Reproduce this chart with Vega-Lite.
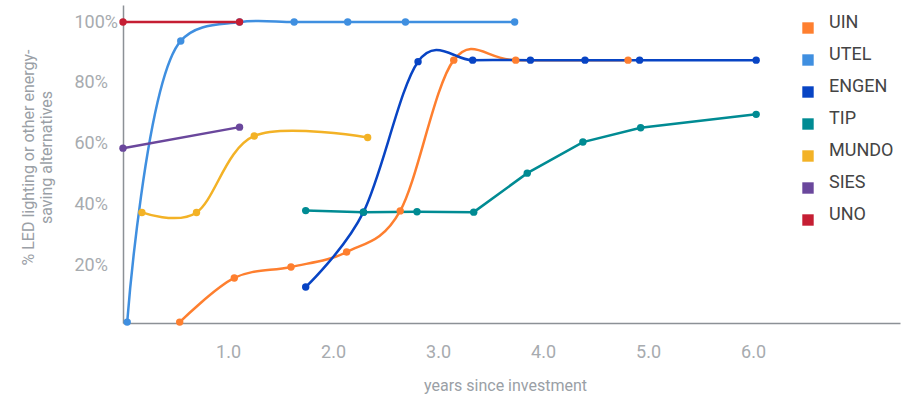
{
  "$schema": "https://vega.github.io/schema/vega-lite/v6.json",
  "width": 777,
  "height": 318,
  "autosize": {"type": "none"},
  "padding": {"left": 123, "top": 5, "right": 11, "bottom": 73},
  "background": "white",
  "config": {
    "view": {"stroke": null},
    "font": "Roboto"
  },
  "data": {
    "values": [
      {"s": "UIN", "x": 0.54, "y": 1.5},
      {"s": "UIN", "x": 1.06, "y": 16.0},
      {"s": "UIN", "x": 1.60, "y": 19.6},
      {"s": "UIN", "x": 2.13, "y": 24.5},
      {"s": "UIN", "x": 2.64, "y": 38.0},
      {"s": "UIN", "x": 3.15, "y": 87.5},
      {"s": "UIN", "x": 3.74, "y": 87.5},
      {"s": "UIN", "x": 4.81, "y": 87.5},
      {"s": "UTEL", "x": 0.04, "y": 1.5},
      {"s": "UTEL", "x": 0.55, "y": 93.8},
      {"s": "UTEL", "x": 1.11, "y": 100},
      {"s": "UTEL", "x": 1.63, "y": 100},
      {"s": "UTEL", "x": 2.14, "y": 100},
      {"s": "UTEL", "x": 2.69, "y": 100},
      {"s": "UTEL", "x": 3.73, "y": 100},
      {"s": "ENGEN", "x": 1.74, "y": 13.0},
      {"s": "ENGEN", "x": 2.29, "y": 37.6},
      {"s": "ENGEN", "x": 2.81, "y": 87.0},
      {"s": "ENGEN", "x": 3.33, "y": 87.5},
      {"s": "ENGEN", "x": 3.88, "y": 87.5},
      {"s": "ENGEN", "x": 4.40, "y": 87.5},
      {"s": "ENGEN", "x": 4.92, "y": 87.5},
      {"s": "ENGEN", "x": 6.03, "y": 87.5},
      {"s": "TIP", "x": 1.74, "y": 38.1},
      {"s": "TIP", "x": 2.29, "y": 37.6},
      {"s": "TIP", "x": 2.80, "y": 37.7},
      {"s": "TIP", "x": 3.34, "y": 37.6},
      {"s": "TIP", "x": 3.85, "y": 50.4},
      {"s": "TIP", "x": 4.38, "y": 60.6},
      {"s": "TIP", "x": 4.93, "y": 65.3},
      {"s": "TIP", "x": 6.03, "y": 69.7},
      {"s": "MUNDO", "x": 0.18, "y": 37.5},
      {"s": "MUNDO", "x": 0.70, "y": 37.5},
      {"s": "MUNDO", "x": 1.25, "y": 62.6},
      {"s": "MUNDO", "x": 2.33, "y": 62.1},
      {"s": "SIES", "x": 0.0, "y": 58.6},
      {"s": "SIES", "x": 1.11, "y": 65.5},
      {"s": "UNO", "x": 0.0, "y": 100},
      {"s": "UNO", "x": 1.11, "y": 100}
    ]
  },
  "encoding": {
    "x": {
      "field": "x", "type": "quantitative",
      "scale": {"domain": [0, 7.4], "nice": false, "zero": false},
      "axis": {
        "values": [1, 2, 3, 4, 5, 6], "format": ".1f",
        "title": "years since investment",
        "grid": false, "ticks": false,
        "domainColor": "#8c9196", "domainWidth": 1.5,
        "labelColor": "#a7abaf", "labelFontSize": 18, "labelPadding": 20,
        "titleColor": "#9aa0a6", "titleFontSize": 16, "titleFontWeight": "normal",
        "titleX": 382, "titleY": 62, "titleBaseline": "middle", "titleAnchor": null
      }
    },
    "y": {
      "field": "y", "type": "quantitative",
      "scale": {"domain": [1.2, 105.6], "nice": false, "zero": false},
      "axis": {
        "values": [20, 40, 60, 80, 100],
        "labelExpr": "datum.value + '%'",
        "title": ["% LED lighting or other energy-", "saving alternatives"],
        "grid": false, "ticks": false,
        "domainColor": "#8c9196", "domainWidth": 1.5,
        "labelColor": "#a7abaf", "labelFontSize": 18, "labelPadding": 49, "labelAlign": "left",
        "titleColor": "#9aa0a6", "titleFontSize": 16, "titleFontWeight": "normal",
        "titleLineHeight": 18, "titleAngle": 270,
        "titleX": -95, "titleY": 152, "titleAlign": "center", "titleBaseline": "middle", "titleAnchor": null
      }
    },
    "color": {
      "field": "s", "type": "nominal",
      "scale": {
        "domain": ["UIN", "UTEL", "ENGEN", "TIP", "MUNDO", "SIES", "UNO"],
        "range": ["#fe7f2f", "#3f8fe0", "#0844c4", "#008b93", "#f3b226", "#6a479c", "#c51e33"]
      },
      "legend": {
        "title": null, "orient": "none", "legendX": 676, "legendY": 14,
        "symbolType": "square", "symbolSize": 130, "symbolStrokeWidth": 0, "symbolOpacity": 1,
        "labelFontSize": 18, "labelColor": "#444444", "labelOffset": 12,
        "labelBaseline": "alphabetic", "rowPadding": 12, "padding": 0
      }
    }
  },
  "layer": [
    {
      "transform": [{"filter": "indexof(['UIN','ENGEN','MUNDO'], datum.s) >= 0"}],
      "mark": {"type": "line", "interpolate": "cardinal", "strokeWidth": 2.5}
    },
    {
      "transform": [{"filter": "datum.s == 'UTEL'"}],
      "mark": {"type": "line", "interpolate": "catmull-rom", "strokeWidth": 2.5}
    },
    {
      "transform": [{"filter": "indexof(['TIP','SIES','UNO'], datum.s) >= 0"}],
      "mark": {"type": "line", "interpolate": "linear", "strokeWidth": 2.5}
    },
    {
      "mark": {"type": "circle", "size": 55, "opacity": 1}
    }
  ]
}
